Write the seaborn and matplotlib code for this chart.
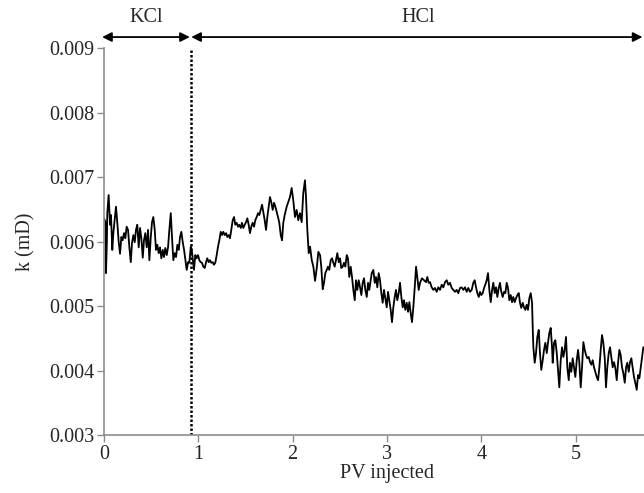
import numpy as np
import pandas as pd
import matplotlib
matplotlib.use("Agg")
import matplotlib.pyplot as plt
import seaborn as sns

# PV injected vs permeability k (mD)
pv = [0.000, 0.015, 0.021, 0.030, 0.035, 0.049, 0.064, 0.074, 0.088, 0.099,
      0.113, 0.127, 0.141, 0.156, 0.170, 0.184, 0.198, 0.212, 0.226, 0.240,
      0.255, 0.269, 0.284, 0.297, 0.311, 0.326, 0.339, 0.353, 0.368, 0.382,
      0.396, 0.411, 0.424, 0.438, 0.453, 0.467, 0.481, 0.496, 0.509, 0.523,
      0.538, 0.551, 0.565, 0.580, 0.594, 0.608, 0.623, 0.636, 0.650, 0.665,
      0.679, 0.693, 0.708, 0.721, 0.735, 0.750, 0.764, 0.778, 0.793, 0.806,
      0.820, 0.835, 0.849, 0.863, 0.877, 0.891, 0.905, 0.920, 0.933, 0.954,
      0.968, 0.983, 0.997, 1.011, 1.025, 1.039, 1.053, 1.068, 1.082, 1.095,
      1.110, 1.124, 1.138, 1.153, 1.166, 1.180, 1.195, 1.209, 1.223, 1.238,
      1.251, 1.265, 1.280, 1.294, 1.308, 1.322, 1.336, 1.350, 1.365, 1.379,
      1.392, 1.407, 1.421, 1.435, 1.450, 1.463, 1.477, 1.492, 1.506, 1.520,
      1.534, 1.548, 1.562, 1.577, 1.591, 1.604, 1.619, 1.633, 1.647, 1.662,
      1.676, 1.689, 1.704, 1.718, 1.732, 1.747, 1.760, 1.774, 1.789, 1.803,
      1.817, 1.831, 1.845, 1.859, 1.874, 1.888, 1.901, 1.916, 1.937, 1.951,
      1.972, 1.990, 2.007, 2.025, 2.043, 2.060, 2.078, 2.096, 2.113, 2.131,
      2.142, 2.156, 2.171, 2.185, 2.203, 2.220, 2.238, 2.256, 2.273, 2.291,
      2.304, 2.319, 2.333, 2.347, 2.362, 2.375, 2.389, 2.404, 2.418, 2.432,
      2.446, 2.460, 2.474, 2.489, 2.503, 2.516, 2.531, 2.545, 2.559, 2.574,
      2.587, 2.601, 2.616, 2.630, 2.644, 2.659, 2.672, 2.686, 2.701, 2.715,
      2.729, 2.743, 2.757, 2.771, 2.786, 2.800, 2.813, 2.828, 2.839, 2.856,
      2.871, 2.884, 2.898, 2.913, 2.927, 2.941, 2.955, 2.969, 2.983, 2.998,
      3.012, 3.025, 3.040, 3.054, 3.068, 3.083, 3.096, 3.110, 3.125, 3.139,
      3.153, 3.168, 3.181, 3.195, 3.210, 3.224, 3.238, 3.252, 3.266, 3.280,
      3.295, 3.309, 3.322, 3.337, 3.351, 3.372, 3.393, 3.415, 3.428, 3.443,
      3.457, 3.475, 3.492, 3.510, 3.528, 3.545, 3.563, 3.581, 3.598, 3.616,
      3.634, 3.651, 3.669, 3.687, 3.704, 3.722, 3.740, 3.757, 3.775, 3.793,
      3.810, 3.828, 3.846, 3.863, 3.881, 3.899, 3.916, 3.931, 3.945, 3.959,
      3.974, 3.987, 4.001, 4.016, 4.030, 4.043, 4.058, 4.072, 4.086, 4.101,
      4.115, 4.128, 4.143, 4.157, 4.171, 4.186, 4.199, 4.213, 4.228, 4.242,
      4.256, 4.270, 4.284, 4.298, 4.313, 4.327, 4.340, 4.355, 4.369, 4.383,
      4.398, 4.411, 4.425, 4.440, 4.454, 4.468, 4.482, 4.496, 4.510, 4.525,
      4.539, 4.546, 4.553, 4.567, 4.581, 4.595, 4.610, 4.623, 4.637, 4.652,
      4.666, 4.680, 4.695, 4.708, 4.722, 4.737, 4.751, 4.758, 4.772, 4.786,
      4.801, 4.814, 4.828, 4.843, 4.857, 4.871, 4.885, 4.899, 4.913, 4.928,
      4.941, 4.955, 4.970, 4.984, 4.998, 5.013, 5.027, 5.040, 5.055, 5.069,
      5.083, 5.098, 5.111, 5.125, 5.140, 5.154, 5.168, 5.182, 5.196, 5.210,
      5.225, 5.239, 5.253, 5.267, 5.281, 5.295, 5.310, 5.323, 5.337, 5.352,
      5.366, 5.380, 5.394, 5.408, 5.422, 5.437, 5.451, 5.465, 5.479, 5.493,
      5.507, 5.522, 5.536, 5.549, 5.564, 5.578, 5.592, 5.606, 5.620, 5.634,
      5.649, 5.663, 5.677, 5.692, 5.705, 5.719, 5.750]

# k in units of 1e-3 mD
k_milli = [6.36, 6.30, 5.51, 5.98, 6.44, 6.72, 6.26, 6.41, 5.87, 6.13,
           6.33, 6.54, 6.29, 5.99, 5.81, 6.07, 6.02, 6.13, 6.05, 6.23,
           6.18, 5.91, 5.68, 5.98, 6.10, 5.99, 6.18, 6.26, 5.91, 6.21,
           6.05, 5.75, 6.02, 6.13, 5.91, 6.18, 5.71, 6.07, 6.30, 6.38,
           6.18, 5.87, 5.95, 5.82, 5.91, 5.74, 5.87, 5.76, 5.90, 5.79,
           5.91, 6.18, 6.44, 6.07, 5.71, 5.82, 5.76, 5.95, 5.87, 6.07,
           6.15, 5.99, 5.87, 5.71, 5.56, 5.68, 5.67, 5.92, 5.84, 5.56,
           5.79, 5.74, 5.79, 5.71, 5.68, 5.67, 5.61, 5.59, 5.68, 5.74,
           5.68, 5.71, 5.67, 5.68, 5.64, 5.67, 5.79, 5.92, 6.02, 6.15,
           6.10, 6.15, 6.10, 6.13, 6.07, 6.10, 6.05, 6.18, 6.33, 6.38,
           6.26, 6.29, 6.23, 6.26, 6.21, 6.29, 6.21, 6.26, 6.30, 6.36,
           6.26, 6.13, 6.23, 6.29, 6.23, 6.33, 6.38, 6.44, 6.41, 6.49,
           6.57, 6.46, 6.33, 6.18, 6.38, 6.54, 6.69, 6.61, 6.49, 6.60,
           6.54, 6.46, 6.38, 6.29, 6.10, 6.02, 6.29, 6.41, 6.54, 6.60,
           6.69, 6.83, 6.64, 6.38, 6.49, 6.33, 6.44, 6.30, 6.75, 6.95,
           6.69, 6.18, 5.82, 5.92, 5.71, 5.61, 5.39, 5.59, 5.84, 5.79,
           5.61, 5.26, 5.36, 5.51, 5.56, 5.61, 5.56, 5.71, 5.74, 5.67,
           5.61, 5.71, 5.82, 5.68, 5.74, 5.59, 5.61, 5.67, 5.61, 5.79,
           5.74, 5.45, 5.61, 5.45, 5.25, 5.09, 5.40, 5.25, 5.40, 5.29,
           5.17, 5.36, 5.43, 5.25, 5.14, 5.36, 5.25, 5.40, 5.51, 5.56,
           5.36, 5.45, 5.29, 5.51, 5.40, 5.20, 5.05, 5.25, 5.12, 4.98,
           5.22, 5.09, 4.94, 4.75, 4.98, 5.14, 5.25, 5.09, 5.20, 5.36,
           5.14, 4.98, 5.09, 4.94, 5.05, 4.91, 5.06, 4.89, 4.75, 4.98,
           5.29, 5.61, 5.45, 5.25, 5.36, 5.43, 5.40, 5.37, 5.45, 5.36,
           5.37, 5.29, 5.25, 5.28, 5.22, 5.29, 5.25, 5.33, 5.29, 5.37,
           5.40, 5.33, 5.36, 5.28, 5.25, 5.22, 5.25, 5.20, 5.28, 5.29,
           5.25, 5.29, 5.22, 5.28, 5.22, 5.25, 5.36, 5.40, 5.29, 5.20,
           5.14, 5.22, 5.17, 5.20, 5.28, 5.33, 5.40, 5.51, 5.25, 5.06,
           5.25, 5.36, 5.20, 5.29, 5.14, 5.28, 5.36, 5.22, 5.14, 5.22,
           5.20, 5.36, 5.28, 5.09, 5.17, 5.06, 5.14, 5.06, 5.12, 5.17,
           5.20, 5.05, 4.97, 5.05, 4.98, 4.94, 5.02, 4.94, 5.12, 5.20,
           5.05, 4.67, 4.36, 4.12, 4.27, 4.52, 4.63, 4.27, 4.01, 4.16,
           4.32, 4.43, 4.27, 4.43, 4.58, 4.66, 4.36, 4.12, 4.43, 4.47,
           4.27, 4.01, 3.74, 4.16, 4.36, 4.21, 4.32, 4.52, 4.05, 3.85,
           4.12, 3.98, 4.19, 4.05, 3.90, 4.16, 4.32, 4.13, 3.74, 4.05,
           4.44, 4.32, 4.24, 4.19, 4.21, 4.13, 4.09, 4.16, 4.05, 3.98,
           3.90, 3.85, 4.05, 4.32, 4.55, 4.43, 4.19, 3.74, 4.05, 4.27,
           4.36, 4.21, 4.05, 4.13, 4.04, 3.85, 4.12, 4.32, 4.24, 4.05,
           3.96, 3.81, 4.05, 4.12, 3.98, 4.13, 4.19, 4.05, 3.90, 3.81,
           3.70, 3.93, 3.88, 4.05, 4.21, 4.36, 4.32]

x_ticks = [0, 1, 2, 3, 4, 5]
y_ticks = [0.003, 0.004, 0.005, 0.006, 0.007, 0.008, 0.009]
switch_pv = 0.92
stages = ["KCl", "HCl"]

df = pd.DataFrame({"PV": pv, "k": np.array(k_milli) * 1e-3})

sns.set_theme(style="white")
plt.rcParams["font.family"] = ["Liberation Serif", "DejaVu Serif"]
plt.rcParams["font.size"] = 14.5

fig = plt.figure(figsize=(6.44, 4.93), dpi=100)
ax = fig.add_axes([0.1615, 0.1176, 0.8786, 0.785])

sns.lineplot(data=df, x="PV", y="k", estimator=None, sort=False,
             color="black", linewidth=1.3, ax=ax)
ax.axvline(switch_pv, color="black", linestyle=(0, (1, 0.8)), linewidth=1.8)

ax.set_xlim(0, 6)
ax.set_ylim(0.003, 0.009)
ax.set_xticks(x_ticks)
ax.set_yticks(y_ticks)
ax.set_yticklabels([f"{v:.3f}" for v in y_ticks])
ax.set_xlabel("PV injected", fontsize=14.5, labelpad=0)
ax.set_ylabel("k (mD)", fontsize=14.5, labelpad=10)
ax.tick_params(axis="both", labelsize=14.5, length=5, width=1,
               color="#8c8c8c", direction="out", pad=2, left=True, bottom=True)

for side in ["top", "right"]:
    ax.spines[side].set_visible(False)
for side in ["left", "bottom"]:
    ax.spines[side].set_color("#8c8c8c")
    ax.spines[side].set_linewidth(1.2)

# stage arrows above the plot
arrow_y = 0.00917
text_y = 0.00947
spans = [(-0.02, switch_pv - 0.01), (switch_pv + 0.005, 5.71)]
for name, (a, b) in zip(stages, spans):
    ax.annotate("", xy=(a, arrow_y), xytext=(b, arrow_y), xycoords="data",
                annotation_clip=False,
                arrowprops=dict(arrowstyle="<|-|>", color="black", lw=1.3,
                                mutation_scale=14, shrinkA=0, shrinkB=0))
ax.text(0.445, text_y, stages[0], ha="center", va="center", fontsize=14.5,
        clip_on=False)
ax.text(3.33, text_y, stages[1], ha="center", va="center", fontsize=14.5,
        clip_on=False)

fig.savefig("out.png", dpi=100)
